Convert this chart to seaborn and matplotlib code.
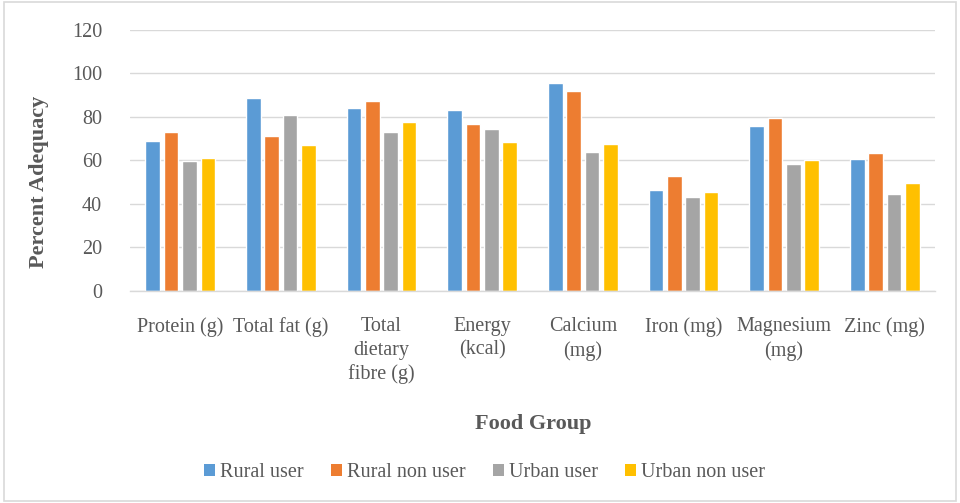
import pandas as pd
import seaborn as sns
from matplotlib import pyplot as plt
from matplotlib.patches import Rectangle, Patch

# values
foods = ["Protein (g)", "Total fat (g)", "Total\ndietary\nfibre (g)", "Energy\n(kcal)",
         "Calcium\n(mg)", "Iron (mg)", "Magnesium\n(mg)", "Zinc (mg)"]
groups = ["Rural user", "Rural non user", "Urban user", "Urban non user"]
rural_user = [69.0, 88.4, 84.1, 83.2, 95.6, 46.2, 75.7, 60.7]
rural_non_user = [72.9, 71.4, 87.2, 76.5, 91.7, 52.9, 79.4, 63.2]
urban_user = [59.5, 81.0, 73.2, 74.3, 63.9, 43.0, 58.1, 44.6]
urban_non_user = [60.9, 67.0, 77.4, 68.3, 67.7, 45.4, 60.1, 49.5]
colors = ["#5B9BD5", "#ED7D31", "#A5A5A5", "#FFC000"]

series = [rural_user, rural_non_user, urban_user, urban_non_user]
df = pd.DataFrame({
    "food": foods * 4,
    "group": [g for g in groups for _ in foods],
    "value": [v for s in series for v in s],
})

sns.set_theme(style="white")
plt.rcParams["font.family"] = ["Liberation Serif", "DejaVu Serif"]
txt = "#595959"
grid = "#D9D9D9"

fig = plt.figure(figsize=(9.6, 5.03), dpi=100)
ax = fig.add_axes([0.1354, 0.4215, 0.8386, 0.5195])

sns.barplot(data=df, x="food", y="value", hue="group", order=foods, hue_order=groups,
            palette=colors, width=0.73, gap=0.2, saturation=1, errorbar=None,
            legend=False, ax=ax)

ax.set_ylim(0, 120)
ax.set_yticks(range(0, 121, 20))
ax.yaxis.grid(True, color=grid, linewidth=1)
ax.set_axisbelow(True)
for side in ["top", "right", "left"]:
    ax.spines[side].set_visible(False)
ax.spines["bottom"].set_color(grid)
ax.spines["bottom"].set_linewidth(1)
ax.tick_params(axis="both", length=0, colors=txt, labelsize=14.5)
ax.tick_params(axis="y", pad=20)
ax.tick_params(axis="x", pad=19)
ax.set_xlabel("")
ax.set_ylabel("")
for lab in ax.get_xticklabels():
    lab.set_linespacing(1.3)

fig.text(0.555, 0.157, "Food Group", ha="center", va="center",
         fontsize=16, fontweight="bold", color=txt)
fig.text(0.041, 0.638, "Percent Adequacy", ha="center", va="center", rotation=90,
         fontsize=16, fontweight="bold", color=txt)

handles = [Patch(facecolor=c, edgecolor="none") for c in colors]
fig.legend(handles, groups, loc="center", bbox_to_anchor=(0.505, 0.06), ncol=4,
           frameon=False, fontsize=14.5, labelcolor=txt, handlelength=0.55,
           handleheight=0.55, handletextpad=0.25, columnspacing=1.35)

fig.add_artist(Rectangle((0.004, 0.004), 0.992, 0.992, transform=fig.transFigure,
                         fill=False, edgecolor=grid, linewidth=1.2))

plt.savefig("out.png", dpi=100)
